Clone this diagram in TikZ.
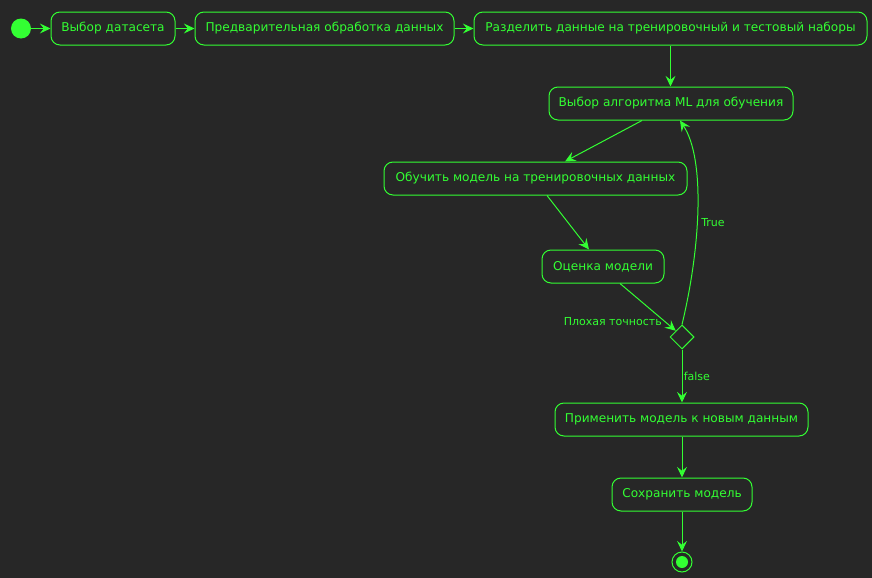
\documentclass[tikz,border=0pt]{standalone}
\usepackage{fontspec}
\setmainfont{DejaVu Sans}
\usetikzlibrary{arrows.meta,shapes.geometric,calc}
\definecolor{bg}{HTML}{272727}
\definecolor{gr}{HTML}{33FF33}
\newlength\pxu
\setlength\pxu{0.75pt}
\begin{document}
\begin{tikzpicture}[x=0.75pt,y=-0.75pt,
  every node/.style={font=\fontsize{9.1}{11}\selectfont, text=gr},
  act/.style={draw=gr, line width=0.75pt, rounded corners=9\pxu, minimum height=33\pxu, inner sep=0pt},
  flow/.style={draw=gr, line width=0.75pt, -{Stealth[length=8pt,width=7.5pt,inset=3pt]}},
  lbl/.style={font=\fontsize{8.25}{10}\selectfont, text=gr, inner sep=0pt}]
\fill[bg] (0,0) rectangle (872,578);
\useasboundingbox (0,0) rectangle (872,578);
\node[circle, fill=gr, minimum size=20\pxu, inner sep=0pt] (st) at (21,28.5) {};
\node[act, minimum width=124\pxu] (b1) at (113,28.5) {Выбор датасета};
\node[act, minimum width=259\pxu] (b2) at (324.5,28.5) {Предварительная обработка данных};
\node[act, minimum width=393\pxu] (b3) at (670.5,28.5) {Разделить данные на тренировочный и тестовый наборы};
\node[act, minimum width=244\pxu] (b4) at (671,103.5) {Выбор алгоритма ML для обучения};
\node[act, minimum width=303\pxu] (b5) at (535.5,178.5) {Обучить модель на тренировочных данных};
\node[act, minimum width=122\pxu] (b6) at (603,266.5) {Оценка модели};
\node[diamond, draw=gr, line width=0.75pt, minimum size=24\pxu, inner sep=0pt] (d) at (682,337) {};
\node[act, minimum width=253\pxu] (b7) at (681.5,419.5) {Применить модель к новым данным};
\node[act, minimum width=140\pxu] (b8) at (682,494.5) {Сохранить модель};
\node[circle, draw=gr, line width=0.75pt, minimum size=20\pxu, inner sep=0pt] (en) at (682,562) {};
\node[circle, fill=gr, minimum size=12\pxu, inner sep=0pt] at (en) {};
\draw[flow] (st) -- (b1);
\draw[flow] (b1) -- (b2);
\draw[flow] (b2) -- (b3);
\draw[flow] (b3.south) -- (b3.south |- b4.north);
\draw[flow] ($(b4.south)+(-29,0)$) -- ($(b5.north)+(29.5,0)$);
\draw[flow] ($(b5.south)+(11.5,0)$) -- ($(b6.north)+(-14,0)$);
\draw[flow] ($(b6.south)+(17,0)$) -- (d.north west);
\draw[flow] (d.north) .. controls (700,250) and (706,160) .. ($(b4.south)+(9,0)$);
\draw[flow] (d.south) -- (d.south |- b7.north);
\draw[flow] (b7.south -| d) -- (d |- b8.north);
\draw[flow] (b8.south) -- (en.north);
\node[lbl, anchor=west] at (701,223) {True};
\node[lbl, anchor=west] at (683.5,376) {false};
\node[lbl, anchor=east] at (662,322) {Плохая точность};
\end{tikzpicture}
\end{document}
